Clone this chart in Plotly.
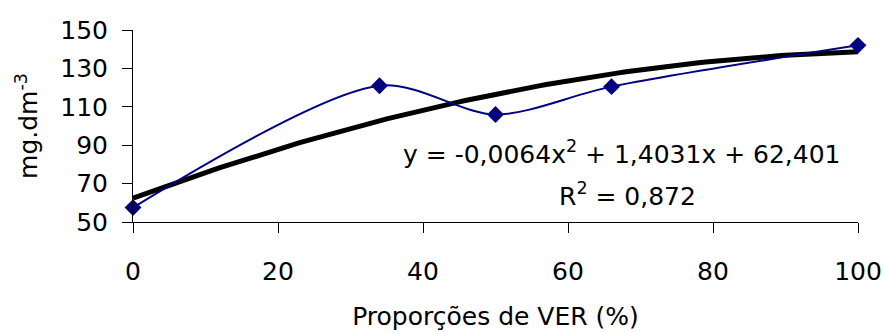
import numpy as np
import plotly.graph_objects as go

proporcoes = [0, 34, 50, 66, 100]
valores = [57.5, 121, 106, 120.5, 142]
coef = [-0.0064, 1.4031, 62.401]  # a, b, c of the displayed trendline
x_ticks = [0, 20, 40, 60, 80, 100]
y_ticks = [50, 70, 90, 110, 130, 150]

xt = np.linspace(0, 100, 101)
yt = coef[0] * xt**2 + coef[1] * xt + coef[2]

FONT = "DejaVu Sans, Liberation Sans, Arial, sans-serif"

fig = go.Figure()
fig.add_trace(go.Scatter(x=xt, y=yt, mode="lines",
                         line=dict(color="black", width=5), cliponaxis=False,
                         hoverinfo="skip"))
fig.add_trace(go.Scatter(x=proporcoes, y=valores, mode="lines+markers",
                         line=dict(color="#000080", width=2, shape="spline", smoothing=0.85),
                         marker=dict(symbol="diamond", size=13, color="#000080"),
                         cliponaxis=False))

fig.add_annotation(xref="x", yref="y", x=67.4, y=86,
                   text="y = -0,0064x<sup>2</sup> + 1,4031x + 62,401",
                   showarrow=False, font=dict(family=FONT, size=25, color="black"))
fig.add_annotation(xref="x", yref="y", x=68.2, y=64.5,
                   text="R<sup>2</sup> = 0,872",
                   showarrow=False, font=dict(family=FONT, size=25, color="black"))

fig.update_layout(
    width=886, height=332,
    margin=dict(l=133, r=28, t=30, b=110),
    paper_bgcolor="white", plot_bgcolor="white",
    showlegend=False,
    font=dict(family=FONT, size=25, color="black"),
    xaxis=dict(range=[0, 100], tickvals=x_ticks, ticks="outside", ticklen=10,
               tickcolor="black", showline=True, linecolor="black", linewidth=1,
               showgrid=False, zeroline=False, automargin=False,
               ticklabelstandoff=17,
               title=dict(text="Proporções de VER (%)", standoff=22,
                          font=dict(family=FONT, size=25))),
    yaxis=dict(range=[50, 150], tickvals=y_ticks, ticks="outside", ticklen=10,
               tickcolor="black", showline=True, linecolor="black", linewidth=1,
               showgrid=False, zeroline=False, automargin=False,
               ticklabelstandoff=9,
               title=dict(text="mg.dm<sup>-3</sup>", standoff=15,
                          font=dict(family=FONT, size=25))),
)

fig.write_html("out.html", config={"displayModeBar": False},
               post_script="document.body.style.margin='0';document.body.style.overflow='hidden';")
